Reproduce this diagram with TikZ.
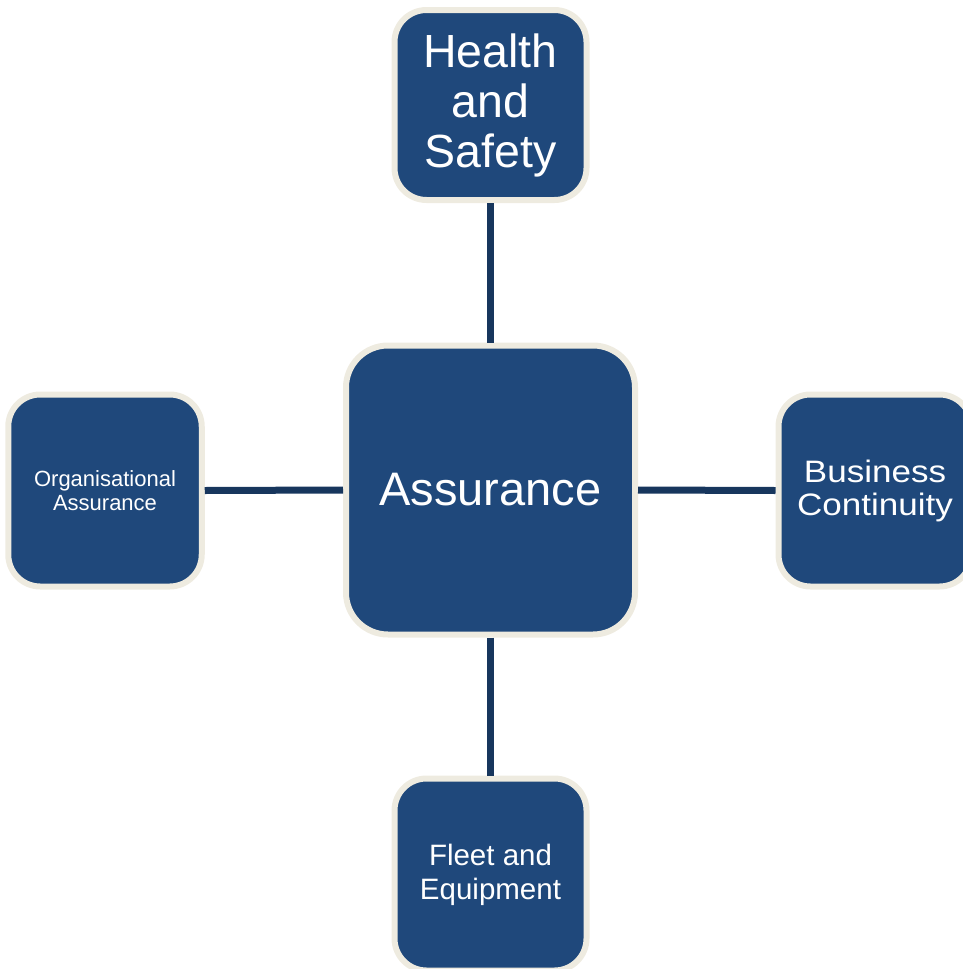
\documentclass[tikz,border=0pt]{standalone}
\usepackage{fontspec}
\setmainfont{Liberation Sans}
\newfontfamily\widefont[FakeStretch=1.13]{Liberation Sans}
\definecolor{boxblue}{HTML}{1F487B}
\definecolor{cream}{HTML}{EEEBE0}
\definecolor{linenavy}{HTML}{17365D}
\tikzset{
  box/.style={draw=cream, line width=6pt, fill=boxblue, rounded corners=32pt,
    text=white, align=center, inner sep=0pt},
  link/.style={draw=linenavy, line width=7pt}
}
\begin{document}
\begin{tikzpicture}[x=1pt,y=-1pt]
\useasboundingbox (0,0) rectangle (963,969);
\node[box, rounded corners=42pt, minimum width=289pt, minimum height=289pt,
  font=\fontsize{47}{50}\selectfont] (c) at (490.5,490) {Assurance};
\node[box, minimum width=192pt, minimum height=190pt,
  font=\fontsize{46.5}{50}\selectfont] (t) at (490.5,105) {Health\\and\\Safety};
\node[box, minimum width=193.5pt, minimum height=192pt,
  font=\fontsize{22}{23.5}\selectfont] (l) at (105,490.5) {Organisational\\Assurance};
\node[box, minimum width=193pt, minimum height=192pt,
  font=\widefont\fontsize{31}{33}\selectfont] (r) at (875,490.5) {Business\\Continuity};
\node[box, minimum width=192pt, minimum height=192pt,
  font=\fontsize{29.5}{34}\selectfont] (b) at (490.5,874.5) {Fleet and\\Equipment};
\draw[link] (c.north) -- (t.south);
\draw[link] (c.south) -- (b.north);
\draw[link] (c.west) -- (l.east);
\draw[link] (c.east) -- (r.west);
\end{tikzpicture}
\end{document}
